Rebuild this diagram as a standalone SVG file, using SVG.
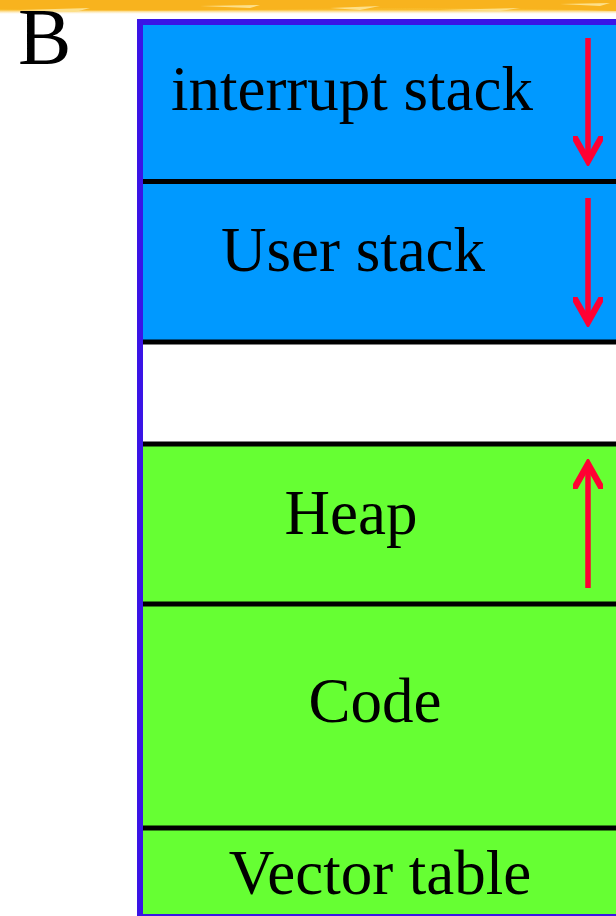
<svg xmlns="http://www.w3.org/2000/svg" width="616" height="916" viewBox="0 0 616 916">
  <defs>
    <linearGradient id="band" x1="0" y1="0" x2="0" y2="1">
      <stop offset="0" stop-color="#f7b01a"/>
      <stop offset="0.7" stop-color="#f9bb2a"/>
      <stop offset="1" stop-color="#fde29a" stop-opacity="0"/>
    </linearGradient>
    <marker id="head" viewBox="0 0 30 30" refX="26" refY="15" markerWidth="30" markerHeight="30" markerUnits="userSpaceOnUse" orient="auto">
      <path d="M2,2 L25,15 L2,28" fill="none" stroke="#ff0033" stroke-width="6.5" stroke-linecap="round" stroke-linejoin="miter"/>
    </marker>
  </defs>
  <style>
    .lbl { font-family: "Liberation Serif", "Times New Roman", serif; font-size: 63px; fill: #000; text-anchor: middle; }
    .div { stroke: #000; stroke-width: 5; }
    .arrow { stroke: #ff0033; stroke-width: 5.5; fill: none; }
  </style>

  <rect width="616" height="916" fill="#fff"/>

  <!-- brushed title band -->
  <rect x="0" y="0" width="616" height="14" fill="url(#band)"/>
  <path d="M0,9 Q150,12 300,9 T616,11 L616,0 L0,0 Z" fill="#f8b31e"/>
  <path d="M20,10 L90,8 L75,12 Z M330,8 L380,6 L360,10 Z M440,10 L520,8 L500,11 Z M200,6 L260,5 L250,8 Z M560,4 L610,3 L600,6 Z" fill="#fde08a"/>

  <text x="18" y="64" font-family="'Liberation Serif', 'Times New Roman', serif" font-size="80" fill="#000">B</text>

  <!-- memory map column -->
  <g id="interrupt-stack">
    <rect x="140" y="22" width="476" height="160" fill="#0099ff"/>
    <text class="lbl" x="352" y="110">interrupt stack</text>
  </g>
  <g id="user-stack">
    <rect x="140" y="182" width="476" height="160" fill="#0099ff"/>
    <text class="lbl" x="353" y="271">User stack</text>
  </g>
  <g id="free">
    <rect x="140" y="342" width="476" height="102" fill="#ffffff"/>
  </g>
  <g id="heap">
    <rect x="140" y="444" width="476" height="160" fill="#66ff33"/>
    <text class="lbl" x="351" y="534">Heap</text>
  </g>
  <g id="code">
    <rect x="140" y="604" width="476" height="224" fill="#66ff33"/>
    <text class="lbl" x="375" y="722">Code</text>
  </g>
  <g id="vector-table">
    <rect x="140" y="828" width="476" height="90" fill="#66ff33"/>
    <text class="lbl" x="380" y="894">Vector table</text>
  </g>

  <!-- section dividers -->
  <g id="dividers">
    <line class="div" x1="143" y1="181.5" x2="616" y2="181.5"/>
    <line class="div" x1="143" y1="342" x2="616" y2="342"/>
    <line class="div" x1="143" y1="444" x2="616" y2="444"/>
    <line class="div" x1="143" y1="604" x2="616" y2="604"/>
    <line class="div" x1="143" y1="828" x2="616" y2="828"/>
  </g>

  <!-- outer frame -->
  <rect x="140" y="22" width="480" height="895" fill="none" stroke="#3a14e6" stroke-width="6"/>

  <!-- growth-direction arrows -->
  <g id="connectors">
    <line class="arrow" x1="588" y1="38" x2="588" y2="162" marker-end="url(#head)"/>
    <line class="arrow" x1="588" y1="198" x2="588" y2="323" marker-end="url(#head)"/>
    <line class="arrow" x1="588" y1="588" x2="588" y2="463" marker-end="url(#head)"/>
  </g>
</svg>
